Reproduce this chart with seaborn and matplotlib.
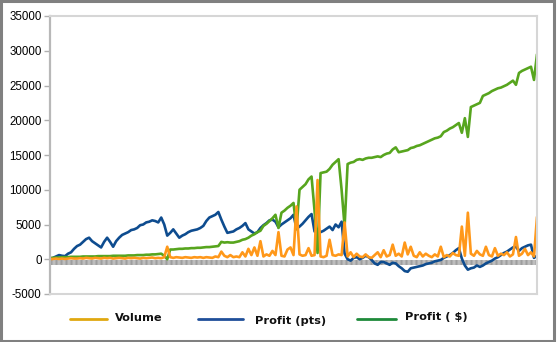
import matplotlib
matplotlib.use("Agg")
import matplotlib.pyplot as plt
import seaborn as sns
import pandas as pd
from matplotlib.lines import Line2D
from matplotlib.patches import Rectangle

# ---------------- data ----------------
profit_pts = [0, 200, 400, 600, 500, 450, 800, 1000, 1500, 1900,
              2100, 2500, 2900, 3100, 2600, 2300, 2000, 1700, 2500, 3100,
              2500, 1800, 2600, 3100, 3500, 3700, 3900, 4200, 4300, 4500,
              4900, 5000, 5300, 5400, 5600, 5500, 5300, 6000, 5000, 3400,
              3800, 4300, 3700, 3100, 3400, 3600, 3900, 4100, 4200, 4300,
              4500, 4800, 5500, 6000, 6200, 6400, 6800, 5700, 4700, 3800,
              3900, 4000, 4300, 4500, 4800, 5200, 4300, 4000, 3700, 3900,
              4500, 4900, 5200, 5600, 5700, 5400, 4600, 5000, 5300, 5600,
              5900, 6400, 4400, 4700, 5100, 5600, 6100, 6500, 4000, 3800,
              3900, 4100, 4400, 4700, 4200, 5000, 4600, 5400, 800, 0,
              -200, 200, 300, 0, 200, 500, 300, -100, -600, -800,
              -400, -400, -600, -800, -500, -600, -1000, -1300, -1700, -1800,
              -1300, -1200, -1100, -1000, -900, -700, -600, -500, -300, -200,
              -100, 200, 400, 600, 900, 1300, 1600, 100, -900, -1500,
              -1300, -1200, -900, -1100, -900, -600, -400, -200, 100, 300,
              600, 900, 1100, 1400, 1700, 1800, 1200, 1600, 1800, 2000,
              2100, 200, 500]

profit_usd = [200, 200, 250, 250, 300, 300, 300, 350, 350, 350,
              350, 400, 400, 400, 400, 400, 450, 450, 450, 450,
              450, 500, 500, 500, 500, 500, 550, 550, 550, 600,
              600, 600, 650, 650, 700, 700, 750, 800, 500, 0,
              1400, 1400, 1450, 1500, 1500, 1550, 1550, 1600, 1600, 1650,
              1650, 1700, 1750, 1750, 1800, 1850, 1900, 2500, 2400, 2450,
              2400, 2400, 2500, 2600, 2800, 2900, 3100, 3400, 3600, 3900,
              4100, 4800, 5100, 5500, 5900, 6400, 4500, 6700, 7000, 7400,
              7700, 8100, 4300, 10000, 10400, 10800, 11500, 11900, 7000, 900,
              12400, 12500, 12600, 13000, 13600, 14000, 14400, 10000, 4700, 13700,
              13900, 14000, 14300, 14400, 14300, 14500, 14600, 14600, 14700, 14800,
              14700, 15000, 15200, 15300, 15800, 16100, 15400, 15500, 15600, 15700,
              16000, 16100, 16300, 16400, 16600, 16800, 17000, 17200, 17400, 17500,
              17700, 18300, 18500, 18800, 19000, 19300, 19600, 18200, 20300, 17600,
              21900, 22100, 22300, 22500, 23500, 23700, 23900, 24200, 24400, 24600,
              24700, 24900, 25100, 25400, 25700, 25100, 26800, 27100, 27300, 27500,
              27700, 25800, 29500]

volume = [0, 50, 100, 50, 100, 50, 100, 150, 100, 100,
          150, 100, 200, 150, 100, 200, 150, 100, 200, 150,
          200, 100, 150, 200, 150, 100, 200, 150, 200, 150,
          100, 200, 150, 200, 250, 150, 200, 150, 300, 1800,
          300, 200, 300, 250, 200, 300, 250, 200, 300, 250,
          300, 200, 300, 250, 200, 400, 300, 1100, 500, 300,
          600, 300, 400, 300, 1000, 400, 1500, 600, 1700, 500,
          2600, 400, 700, 500, 1200, 600, 3900, 500, 400, 1400,
          1700, 600, 7600, 700, 500, 600, 1600, 500, 600, 11400,
          400, 300, 500, 2800, 600, 500, 700, 600, 5300, 400,
          1000, 300, 800, 400, 300, 700, 300, 200, 600, 1000,
          300, 1300, 400, 600, 2100, 500, 800, 400, 2400, 700,
          1800, 500, 300, 1000, 400, 800, 500, 300, 700, 400,
          1800, 300, 600, 400, 900, 600, 500, 4700, 500, 6700,
          800, 500, 1200, 700, 500, 1800, 600, 400, 1600, 500,
          800, 600, 1000, 400, 700, 3200, 500, 800, 1500, 600,
          1000, 400, 6100]

baseline = [-450] * len(volume)

y_ticks = [-5000, 0, 5000, 10000, 15000, 20000, 25000, 30000, 35000]
legend_labels = ["Volume", "Profit (pts)", "Profit ( $)"]

# ---------------- figure ----------------
sns.set_style("white")
plt.rcParams["font.family"] = ["Liberation Sans", "DejaVu Sans"]

W, H = 558, 342
fig = plt.figure(figsize=(W / 100, H / 100), dpi=100)
ax = fig.add_axes([50 / W, 1 - 294 / H, (537 - 50) / W, (294 - 16) / H])

idx = list(range(len(volume)))
df = pd.DataFrame({"i": idx, "pts": profit_pts, "usd": profit_usd,
                   "vol": volume, "base": baseline})

sns.lineplot(data=df, x="i", y="base", ax=ax, color="#bdbdbd", linewidth=3.6)
sns.lineplot(data=df, x="i", y="base", ax=ax, color="#9e9e9e", linewidth=3.6,
             linestyle=(0, (0.4, 0.6)))
sns.lineplot(data=df, x="i", y="pts", ax=ax, color="#0e4c8f", linewidth=1.9)
sns.lineplot(data=df, x="i", y="usd", ax=ax, color="#57a51e", linewidth=1.9)
sns.lineplot(data=df, x="i", y="vol", ax=ax, color="#ff981a", linewidth=1.9)

ax.set_xlim(0, len(volume) - 1)
ax.set_ylim(-5000, 35000)
ax.set_yticks(y_ticks)
ax.set_yticklabels([str(v) for v in y_ticks], fontsize=8.3, color="black")
ax.set_xticks([])
ax.set_xlabel("")
ax.set_ylabel("")
ax.tick_params(axis="y", length=4, width=1, color="#b0b0b0", pad=2, left=True)
for s in ["top", "right", "bottom"]:
    ax.spines[s].set_color("#d6d6d6")
    ax.spines[s].set_linewidth(1.5)
ax.spines["left"].set_color("#b8b8b8")
ax.spines["left"].set_linewidth(1.6)
if ax.get_legend():
    ax.get_legend().remove()

# ---------------- legend (manual, below plot) ----------------
def fx(px):
    return px / W

def fy(py):
    return 1 - py / H

legend_items = [
    (70, 107, 319, "#e0a810", 115, 318),
    (198, 243, 319, "#1f4e99", 255, 320.5),
    (357, 396, 318.5, "#1e8a3a", 405, 317.5),
]
for (x0, x1, ly, c, tx, ty), lab in zip(legend_items, legend_labels):
    fig.add_artist(Line2D([fx(x0), fx(x1)], [fy(ly), fy(ly)], color=c,
                          linewidth=2.0, transform=fig.transFigure))
    fig.text(fx(tx), fy(ty), lab, fontsize=8.2, fontweight="bold",
             family="DejaVu Sans", va="center", ha="left", color="#111111")

# outer frame
fig.add_artist(Rectangle((1 / W, 1 / H), 553 / W, 340 / H, fill=False,
                         edgecolor="#808080", linewidth=2.2,
                         transform=fig.transFigure))

fig.savefig("out.png", dpi=100)
